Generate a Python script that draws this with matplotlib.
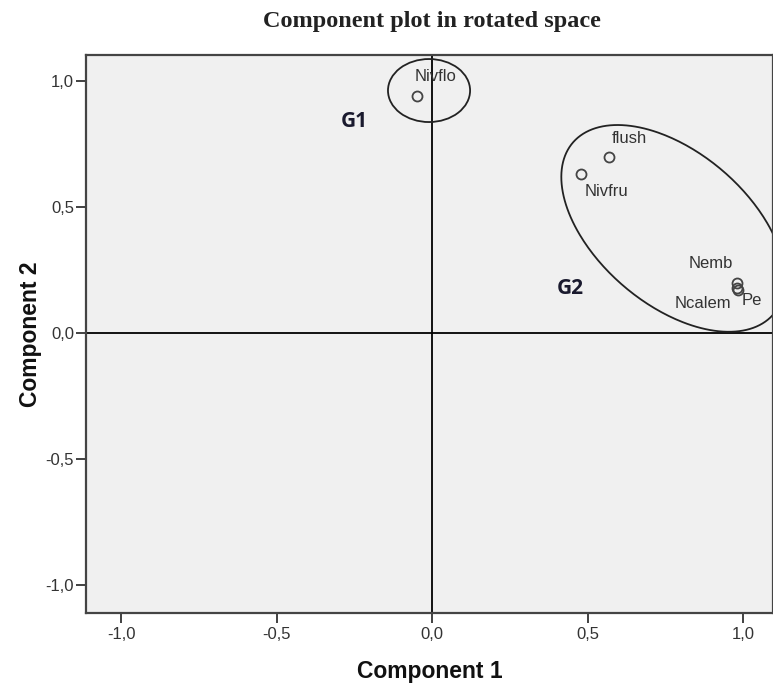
import numpy as np
import matplotlib
matplotlib.use('Agg')
import matplotlib.pyplot as plt
from matplotlib.patches import Ellipse

# rotated component loadings
names = ['Nivflo', 'flush', 'Nivfru', 'Nemb', 'Ncalem', 'Pe']
comp1 = [-0.05, 0.57, 0.48, 0.98, 0.98, 0.985]
comp2 = [0.94, 0.70, 0.63, 0.198, 0.18, 0.17]
# label offsets in pixels and alignment
label_dx = [-2, 2, 3, -4, -6, 3]
label_dy = [20, 18, -17, 20, -16, -10]
label_ha = ['left', 'left', 'left', 'right', 'right', 'left']

ticks = [-1.0, -0.5, 0.0, 0.5, 1.0]
tick_labels = ['-1,0', '-0,5', '0,0', '0,5', '1,0']

# group annotations
groups = ['G1', 'G2']
group_x = [-0.25, 0.444]
group_y = [0.84, 0.175]

W, H = 773, 685
fig = plt.figure(figsize=(W / 100, H / 100), dpi=100)
left, right, top, bottom = 86, 773, 55, 613
ax = fig.add_axes([left / W, (H - bottom) / H, (right - left) / W, (bottom - top) / H])
ax.set_facecolor('#f0f0f0')
xlim = (-1.113, 1.096)
ylim = (-1.111, 1.103)
ax.set_xlim(*xlim)
ax.set_ylim(*ylim)

ax.axhline(0, color='black', lw=1.3, zorder=1)
ax.axvline(0, color='black', lw=1.3, zorder=1)

ax.plot(comp1, comp2, 'o', ms=7.2, mfc='none', mec='#444444', mew=1.3, zorder=3)
for i in range(len(names)):
    ax.annotate(names[i], (comp1[i], comp2[i]), xytext=(label_dx[i], label_dy[i]),
                textcoords='offset pixels', ha=label_ha[i], va='center',
                fontsize=12, color='#333333', family='Liberation Sans')

for g, gx, gy in zip(groups, group_x, group_y):
    ax.text(gx, gy, g, fontsize=15, fontweight='bold', color='#1a1a2e',
            family='Open Sans', ha='center', va='center')

# G1 ring around Nivflo
ax.add_patch(Ellipse((-0.01, 0.962), 0.264, 0.25, fill=False, ec='#222222', lw=1.3, zorder=2))

# G2 tilted ring, shaped in pixel units
sx = (right - left) / (xlim[1] - xlim[0])
sy = (bottom - top) / (ylim[1] - ylim[0])
t = np.linspace(0, 2 * np.pi, 300)
a, b, th = 132, 76, np.deg2rad(-40.5)
ex = 0.775 + (a * np.cos(t) * np.cos(th) - b * np.sin(t) * np.sin(th)) / sx
ey = 0.415 + (a * np.cos(t) * np.sin(th) + b * np.sin(t) * np.cos(th)) / sy
ax.plot(ex, ey, color='#222222', lw=1.3, zorder=2, clip_on=False)

ax.set_xticks(ticks)
ax.set_xticklabels(tick_labels)
ax.set_yticks(ticks)
ax.set_yticklabels(tick_labels)
ax.tick_params(direction='out', length=7, width=1.3, color='#333333',
               labelsize=12, labelcolor='#333333')
ax.tick_params(axis='x', pad=3)
ax.tick_params(axis='y', pad=1.5)
for lab in ax.get_xticklabels() + ax.get_yticklabels():
    lab.set_family('Liberation Sans')
for s in ax.spines.values():
    s.set_color('#444444')
    s.set_linewidth(1.6)

ax.set_xlabel('Component 1', fontsize=16.5, fontweight='bold', family='Liberation Sans',
              color='#111111', labelpad=13)
ax.set_ylabel('Component 2', fontsize=16.5, fontweight='bold', family='Liberation Sans',
              color='#111111', labelpad=3)
fig.text(432 / W, 1 - 21 / H, 'Component plot in rotated space', ha='center', va='center',
         fontsize=17.5, fontweight='bold', family='Liberation Serif', color='#222222')

fig.savefig('out.png', dpi=100)
